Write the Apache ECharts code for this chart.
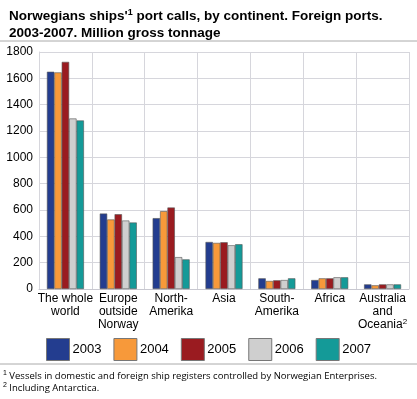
<!DOCTYPE html>
<html>
<head>
<meta charset="utf-8">
<script src="https://cdn.jsdelivr.net/npm/echarts@6/dist/echarts.min.js"></script>
<style>
  html, body { margin: 0; padding: 0; background: #fff; }
  #chart { width: 417px; height: 399px; }
</style>
</head>
<body>
<div id="chart"></div>
<script>
// continents along the x axis
var categories = ['The whole\nworld', 'Europe\noutside\nNorway', 'North-\nAmerika', 'Asia', 'South-\nAmerika', 'Africa', 'Australia\nand\nOceania{sup|2}'];
var years = ['2003', '2004', '2005', '2006', '2007'];
var yTicks = [0, 200, 400, 600, 800, 1000, 1200, 1400, 1600, 1800];

// million gross tonnage
var v2003 = [1650, 573, 538, 357, 81, 68, 35];
var v2004 = [1645, 528, 591, 350, 61, 81, 28];
var v2005 = [1725, 568, 619, 355, 66, 81, 35];
var v2006 = [1295, 520, 242, 332, 68, 89, 35];
var v2007 = [1280, 505, 225, 340, 81, 89, 35];

var colors = ['#233d8f', '#f7993a', '#9a1b20', '#cfcfcf', '#149a98'];
var values = [v2003, v2004, v2005, v2006, v2007];

var series = years.map(function (y, i) {
    return {
        name: y,
        type: 'bar',
        data: values[i],
        barGap: '0%',
        barCategoryGap: '30%',
        itemStyle: { color: colors[i], borderColor: '#555', borderWidth: 0.6 }
    }
});

var option = {
    animation: false,
    textStyle: { fontFamily: 'Liberation Sans, Arial, sans-serif' },
    title: {
        left: 4,
        top: 3,
        text: "Norwegians ships'{s|1} port calls, by continent. Foreign ports.\n2003-2007. Million gross tonnage",
        textStyle: {
            fontSize: 13.5,
            fontWeight: 'bold',
            color: '#000',
            lineHeight: 17,
            rich: {
                s: { fontSize: 9, fontWeight: 'bold', verticalAlign: 'top', lineHeight: 17, padding: [0, 0, 6, 0] }
            }
        }
    },
    legend: {
        left: 41,
        top: 333,
        itemWidth: 23,
        itemHeight: 22,
        itemGap: 12,
        icon: 'rect',
        textStyle: { fontSize: 13, color: '#000', padding: [0, 0, 0, -2] },
        itemStyle: { borderColor: '#777', borderWidth: 1 },
        data: years
    },
    grid: { left: 39, right: 8, top: 52, bottom: 110 },
    xAxis: {
        type: 'category',
        data: categories,
        axisTick: { show: false },
        axisLine: { lineStyle: { color: '#c8c8d0' } },
        splitLine: { show: true, lineStyle: { color: '#d6d6dc' } },
        axisLabel: {
            interval: 0,
            color: '#000',
            fontSize: 12,
            lineHeight: 13,
            margin: 3,
            rich: { sup: { fontSize: 8, verticalAlign: 'top', padding: [0, 0, 6, 0] } }
        }
    },
    yAxis: {
        type: 'value',
        min: yTicks[0],
        max: yTicks[yTicks.length - 1],
        interval: 200,
        axisLine: { show: true, lineStyle: { color: '#d6d6dc' } },
        axisTick: { show: false },
        splitLine: { lineStyle: { color: '#d6d6dc' } },
        axisLabel: {
            color: '#000',
            fontSize: 12,
            margin: 6,
            formatter: function (v) { return String(v) }
        }
    },
    graphic: [
        { type: 'line', shape: { x1: 0, y1: 41, x2: 417, y2: 41 }, style: { stroke: '#aaa', lineWidth: 1 } },
        { type: 'line', shape: { x1: 0, y1: 364, x2: 417, y2: 364 }, style: { stroke: '#aaa', lineWidth: 1 } },
        {
            type: 'text', left: 3, top: 370,
            style: {
                text: '{s|1} Vessels in domestic and foreign ship registers controlled by Norwegian Enterprises.\n{s|2} Including Antarctica.',
                font: '9.5px "Open Sans", sans-serif',
                fill: '#000',
                lineHeight: 12,
                rich: { s: { fontSize: 7, verticalAlign: 'top', padding: [0, 0, 5, 0] } }
            }
        }
    ],
    series: series
};

var mychart = echarts.init(document.getElementById('chart'));
mychart.setOption(option);
</script>
</body>
</html>
